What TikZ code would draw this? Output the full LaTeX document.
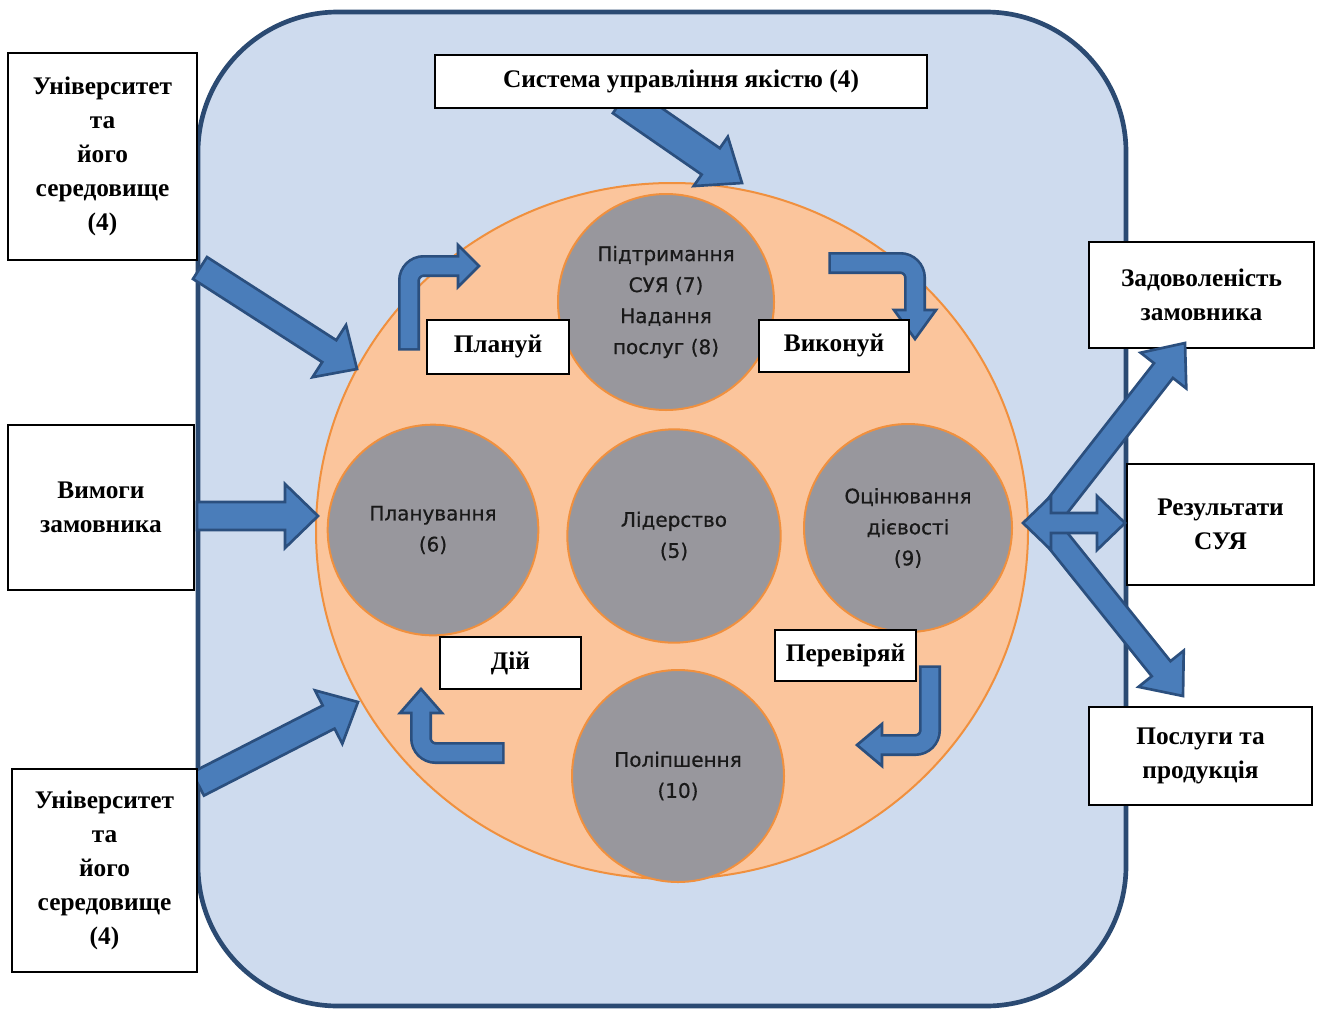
\documentclass[tikz,border=0pt]{standalone}
\usepackage{fontspec}
\setmainfont{Liberation Serif}
\newfontfamily\phasefont[FakeBold=0.6]{DejaVu Sans}
\usetikzlibrary{calc}

\definecolor{bgblue}{HTML}{CEDBEE}
\definecolor{bgline}{HTML}{2B4A72}
\definecolor{peachin}{HTML}{FBC59C}
\definecolor{peachout}{HTML}{FDDCC4}
\definecolor{orline}{HTML}{F0903E}
\definecolor{phasegray}{HTML}{98979D}
\definecolor{arrblue}{HTML}{4A7DBA}
\definecolor{arrline}{HTML}{2B4F7E}

\pgfdeclareradialshading{peachglow}{\pgfpoint{0bp}{0bp}}{color(0bp)=(peachin); color(36bp)=(peachin); color(50bp)=(peachout)}

\tikzset{
  whitebox/.style={draw=black, line width=1.6pt, fill=white, inner sep=0pt, align=center,
    font=\fontsize{19}{25.5}\selectfont\bfseries},
  phase/.style={circle, draw=orline, line width=1.5pt, fill=phasegray, inner sep=0pt, align=center,
    text=black!90, font=\phasefont\fontsize{15}{23.25}\selectfont},
  blockarrow/.style={fill=arrblue, draw=arrline, line width=2pt, line join=miter},
  shaftout/.style={draw=arrline, line width=16.5pt, rounded corners=11pt, shorten <=-2pt},
  shaftin/.style={draw=arrblue, line width=12.5pt, rounded corners=11pt},
}

% straight block arrow: start, tip, half shaft, half head, head length
\newcommand{\fatarrow}[5]{%
  \coordinate (fa-b) at ($(#2)!#5!(#1)$);
  \filldraw[blockarrow] ($(#1)!#3!90:(#2)$) -- ($(fa-b)!#3!90:(#2)$) -- ($(fa-b)!#4!90:(#2)$)
    -- (#2) -- ($(fa-b)!#4!-90:(#2)$) -- ($(fa-b)!#3!-90:(#2)$) -- ($(#1)!#3!-90:(#2)$) -- cycle;
}
% block arrow with a head at both ends
\newcommand{\fatdarrow}[5]{%
  \coordinate (fd-a) at ($(#1)!#5!(#2)$);
  \coordinate (fd-b) at ($(#2)!#5!(#1)$);
  \filldraw[blockarrow] (#1) -- ($(fd-a)!#4!90:(#2)$) -- ($(fd-a)!#3!90:(#2)$) -- ($(fd-b)!#3!90:(#2)$)
    -- ($(fd-b)!#4!90:(#2)$) -- (#2) -- ($(fd-b)!#4!-90:(#2)$) -- ($(fd-b)!#3!-90:(#2)$)
    -- ($(fd-a)!#3!-90:(#2)$) -- ($(fd-a)!#4!-90:(#2)$) -- cycle;
}
% bent arrow: start, corner, head base, tip
\newcommand{\bentarrow}[4]{%
  \draw[shaftout] (#1) -- (#2) -- (#3);
  \filldraw[blockarrow] ($(#3)!15.75pt!90:(#4)$) -- (#4) -- ($(#3)!15.75pt!-90:(#4)$) -- cycle;
  \draw[shaftin] (#1) -- (#2) -- ($(#3)!2pt!(#4)$);
}

\begin{document}
\begin{tikzpicture}[x=0.75pt,y=0.75pt,yscale=-1,xscale=1]
\useasboundingbox (0,0) rectangle (1319,1011);

%Shape: Rounded Rect (system boundary)
\draw[draw=bgline, fill=bgblue, line width=3.5pt, rounded corners=105pt] (198,12) rectangle (1126,1006);
%Shape: Ellipse (cycle)
\draw[draw=orline, line width=1.5pt, shade, shading=peachglow] (672,531) ellipse [x radius=356, y radius=348];

% Phases
\node[phase, minimum size=162pt] (pidtr) at (666,302) {Підтримання\\СУЯ (7)\\Надання\\послуг (8)};
\node[phase, minimum size=158pt] (plan) at (433,530) {Планування\\(6)};
\node[phase, minimum size=160pt] (lider) at (674,536) {Лідерство\\(5)};
\node[phase, minimum size=156pt] (ocin) at (908,528) {Оцінювання\\дієвості\\(9)};
\node[phase, minimum size=159pt] (polip) at (678,776) {Поліпшення\\(10)};

% Inputs
\coordinate (s1) at (622,100);
\coordinate (t1) at (742,183);
\fatarrow{s1}{t1}{12pt}{22.5pt}{28.5pt}
\coordinate (s2) at (200,268);
\coordinate (t2) at (357,369);
\fatarrow{s2}{t2}{9.75pt}{23.25pt}{24.75pt}
\coordinate (s3) at (197,516);
\coordinate (t3) at (318,516);
\fatarrow{s3}{t3}{10.5pt}{24pt}{24.75pt}
\coordinate (s4) at (198,784);
\coordinate (t4) at (358,702);
\fatarrow{s4}{t4}{9.75pt}{22.5pt}{24.75pt}

\node[whitebox, minimum width=369pt, minimum height=39.75pt] (sua) at (681,81.5) {Система управління якістю (4)};
\node[whitebox, minimum width=141.75pt, minimum height=155.25pt] (utTop) at (102.5,156.5) {Університет\\та\\його\\середовище\\(4)};
\node[whitebox, minimum width=139.5pt, minimum height=123.75pt] (vymogy) at (101,507.5) {Вимоги\\замовника};
\node[whitebox, minimum width=138.75pt, minimum height=152.25pt] (utBot) at (104.5,870.5) {Університет\\та\\його\\середовище\\(4)};

% PDCA turns
\coordinate (p1) at (409,348);
\coordinate (p2) at (409,266);
\coordinate (p3) at (458,266);
\coordinate (p4) at (479,266);
\bentarrow{p1}{p2}{p3}{p4}
\coordinate (v1) at (831,263);
\coordinate (v2) at (915,263);
\coordinate (v3) at (915,310);
\coordinate (v4) at (915,339);
\bentarrow{v1}{v2}{v3}{v4}
\coordinate (c1) at (930,668);
\coordinate (c2) at (930,745);
\coordinate (c3) at (882,745);
\coordinate (c4) at (857,745);
\bentarrow{c1}{c2}{c3}{c4}
\coordinate (d1) at (502,753);
\coordinate (d2) at (421,753);
\coordinate (d3) at (421,713);
\coordinate (d4) at (421,689);
\bentarrow{d1}{d2}{d3}{d4}

\node[whitebox, minimum width=106.5pt, minimum height=40.5pt] (planuy) at (498,347) {Плануй};
\node[whitebox, minimum width=112.5pt, minimum height=39pt] (vykonuy) at (834,346) {Виконуй};
\node[whitebox, minimum width=105.75pt, minimum height=39pt] (diy) at (510.5,663) {Дій};
\node[whitebox, minimum width=105.75pt, minimum height=38.25pt] (pereviryay) at (845.5,655.5) {Перевіряй};

% Outputs
\node[whitebox, minimum width=168.75pt, minimum height=79.5pt] (zad) at (1201.5,295) {Задоволеність\\замовника};
\node[whitebox, minimum width=140.25pt, minimum height=90.75pt] (rez) at (1220.5,524.5) {Результати\\СУЯ};
\node[whitebox, minimum width=167.25pt, minimum height=73.5pt] (posl) at (1200.5,756) {Послуги та\\продукція};

\coordinate (o1) at (1045,522);
\coordinate (o2) at (1185,343);
\fatarrow{o1}{o2}{9pt}{21.75pt}{26.25pt}
\coordinate (o3) at (1045,524);
\coordinate (o4) at (1183,696);
\fatarrow{o3}{o4}{9pt}{21.75pt}{26.25pt}
\coordinate (o5) at (1023,523);
\coordinate (o6) at (1125,523);
\fatdarrow{o5}{o6}{7.5pt}{20.25pt}{21pt}

\end{tikzpicture}
\end{document}
